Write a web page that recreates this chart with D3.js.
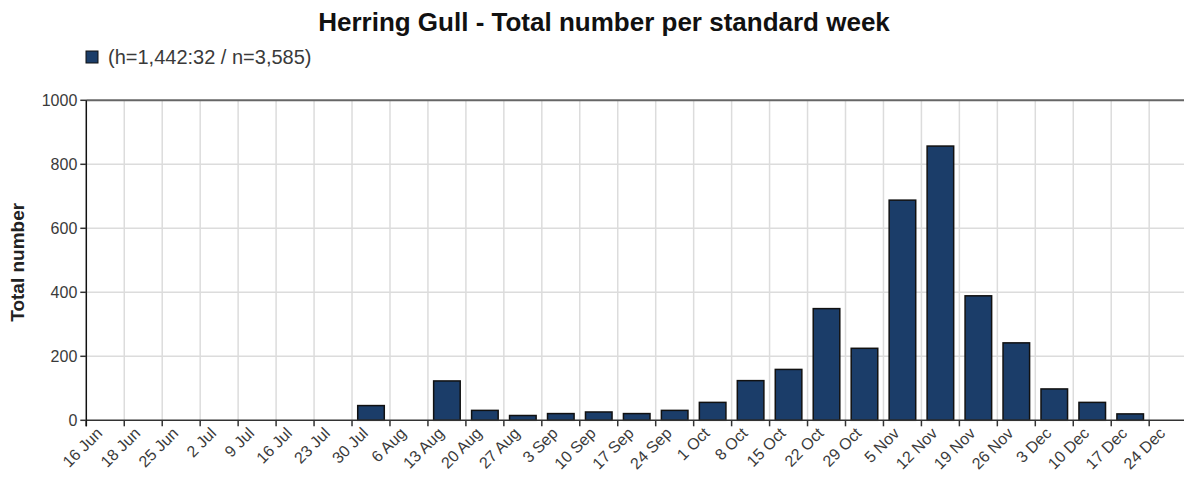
<!DOCTYPE html>
<html>
<head>
<meta charset="utf-8">
<script src="https://cdn.jsdelivr.net/npm/d3@7"></script>
<style>
  html, body { margin: 0; padding: 0; background: #fff; }
  svg { display: block; font-family: "Liberation Sans", Arial, sans-serif; }
</style>
</head>
<body>
<svg id="chart" width="1184" height="477"></svg>
<script>
const weeks = ["16 Jun","18 Jun","25 Jun","2 Jul","9 Jul","16 Jul","23 Jul","30 Jul","6 Aug","13 Aug","20 Aug","27 Aug","3 Sep","10 Sep","17 Sep","24 Sep","1 Oct","8 Oct","15 Oct","22 Oct","29 Oct","5 Nov","12 Nov","19 Nov","26 Nov","3 Dec","10 Dec","17 Dec","24 Dec"];
const totals = [0,0,0,0,0,0,0,46,0,123,31,15,21,26,21,31,56,124,159,349,225,688,857,389,242,98,56,20,0];
const yTicks = [0,200,400,600,800,1000];
const titleText = "Herring Gull - Total number per standard week";
const legendText = "(h=1,442:32 / n=3,585)";
const yTitle = "Total number";

(function () {
const svg = d3.select("#chart");
const pLeft = 86.3, pTop = 100.3, pBottom = 420.3;
const step = 37.96;
const pRight = pLeft + step * weeks.length;

const x = d3.scaleBand().domain(weeks).range([pLeft, pRight]).paddingInner(0.3).paddingOuter(0.15);
const y = d3.scaleLinear().domain([0, 1000]).range([pBottom, pTop]);
const boundary = d => x(d) - (x.step() - x.bandwidth()) / 2;

// horizontal grid
svg.append("g").selectAll("line").data(yTicks.filter(t => t > 0 && t < 1000)).join("line")
  .attr("x1", pLeft).attr("x2", pRight).attr("y1", d => y(d)).attr("y2", d => y(d))
  .attr("stroke", "#dcdcdc").attr("stroke-width", 1.5);
// vertical grid
svg.append("g").selectAll("line").data(weeks.slice(1)).join("line")
  .attr("x1", d => boundary(d)).attr("x2", d => boundary(d)).attr("y1", pTop).attr("y2", pBottom)
  .attr("stroke", "#dcdcdc").attr("stroke-width", 1.5);
// top border
svg.append("line").attr("x1", pLeft).attr("x2", pRight).attr("y1", y(1000)).attr("y2", y(1000))
  .attr("stroke", "#666").attr("stroke-width", 2);

// bars
svg.append("g").selectAll("rect").data(weeks.map((w, i) => ({w, v: totals[i]})).filter(d => d.v > 0)).join("rect")
  .attr("x", d => x(d.w)).attr("width", x.bandwidth())
  .attr("y", d => y(d.v)).attr("height", d => y(0) - y(d.v))
  .attr("fill", "#1b3d69").attr("stroke", "#111").attr("stroke-width", 1.5);

// x axis line
svg.append("line").attr("x1", pLeft).attr("x2", pRight).attr("y1", pBottom).attr("y2", pBottom)
  .attr("stroke", "#333").attr("stroke-width", 1.5);
// x ticks
svg.append("g").selectAll("line").data(weeks).join("line")
  .attr("x1", d => boundary(d)).attr("x2", d => boundary(d)).attr("y1", pBottom).attr("y2", pBottom + 6)
  .attr("stroke", "#333").attr("stroke-width", 1.5);
// x labels
svg.append("g").selectAll("text").data(weeks).join("text")
  .attr("text-anchor", "end")
  .attr("transform", d => `translate(${boundary(d) + 17},${pBottom + 14}) rotate(-45)`)
  .attr("font-size", 16).attr("fill", "#3a3a3a").text(d => d);

// y axis
svg.append("line").attr("x1", pLeft).attr("x2", pLeft).attr("y1", pTop).attr("y2", pBottom + 6)
  .attr("stroke", "#111").attr("stroke-width", 1.5);
svg.append("g").selectAll("line").data(yTicks).join("line")
  .attr("x1", pLeft - 6).attr("x2", pLeft).attr("y1", d => y(d)).attr("y2", d => y(d))
  .attr("stroke", "#333").attr("stroke-width", 1.5);
svg.append("g").selectAll("text").data(yTicks).join("text")
  .attr("x", pLeft - 9).attr("y", d => y(d)).attr("dy", "0.35em")
  .attr("text-anchor", "end").attr("font-size", 16).attr("fill", "#3a3a3a").text(d => d);

// y title
svg.append("text").attr("transform", `translate(24,${(pTop + pBottom) / 2 + 2}) rotate(-90)`)
  .attr("text-anchor", "middle").attr("font-size", 19).attr("font-weight", "bold").attr("fill", "#222").text(yTitle);

// title
svg.append("text").attr("x", 604).attr("y", 31).attr("text-anchor", "middle")
  .attr("font-size", 26).attr("font-weight", "bold").attr("fill", "#111").text(titleText);

// legend
svg.append("rect").attr("x", 86).attr("y", 51).attr("width", 12).attr("height", 12)
  .attr("fill", "#1b3d69").attr("stroke", "#111").attr("stroke-width", 1);
svg.append("text").attr("x", 108).attr("y", 57).attr("dy", "0.35em")
  .attr("font-size", 20).attr("fill", "#3a3a3a").text(legendText);
})();
</script>
</body>
</html>
